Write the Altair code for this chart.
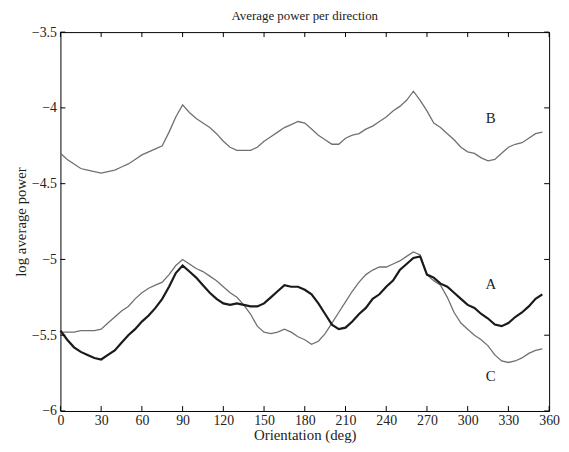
import altair as alt
import pandas as pd

deg = list(range(0, 360, 5))

series_b = [-4.30, -4.34, -4.37, -4.40, -4.41, -4.42, -4.43, -4.42, -4.41, -4.39,
            -4.37, -4.34, -4.31, -4.29, -4.27, -4.25, -4.16, -4.06, -3.98, -4.03,
            -4.07, -4.10, -4.13, -4.17, -4.22, -4.26, -4.28, -4.28, -4.28, -4.26,
            -4.22, -4.19, -4.16, -4.13, -4.11, -4.09, -4.10, -4.14, -4.18, -4.21,
            -4.24, -4.24, -4.20, -4.18, -4.17, -4.14, -4.12, -4.09, -4.06, -4.02,
            -3.99, -3.95, -3.89, -3.95, -4.02, -4.10, -4.13, -4.17, -4.21, -4.26,
            -4.29, -4.30, -4.33, -4.35, -4.34, -4.30, -4.26, -4.24, -4.23, -4.20,
            -4.17, -4.16]

series_a = [-5.47, -5.53, -5.58, -5.61, -5.63, -5.65, -5.66, -5.63, -5.60, -5.55,
            -5.50, -5.46, -5.41, -5.37, -5.32, -5.26, -5.18, -5.09, -5.04, -5.08,
            -5.12, -5.17, -5.22, -5.26, -5.29, -5.30, -5.29, -5.30, -5.31, -5.31,
            -5.29, -5.25, -5.21, -5.17, -5.18, -5.18, -5.20, -5.23, -5.29, -5.36,
            -5.43, -5.46, -5.45, -5.41, -5.36, -5.32, -5.26, -5.23, -5.18, -5.14,
            -5.07, -5.03, -4.99, -4.98, -5.10, -5.12, -5.16, -5.18, -5.22, -5.26,
            -5.30, -5.32, -5.36, -5.39, -5.43, -5.44, -5.42, -5.38, -5.35, -5.31,
            -5.26, -5.23]

series_c = [-5.48, -5.48, -5.48, -5.47, -5.47, -5.47, -5.46, -5.42, -5.38, -5.34,
            -5.31, -5.26, -5.22, -5.19, -5.17, -5.15, -5.10, -5.04, -5.00, -5.03,
            -5.06, -5.08, -5.11, -5.14, -5.18, -5.22, -5.25, -5.30, -5.36, -5.44,
            -5.48, -5.49, -5.48, -5.46, -5.48, -5.51, -5.53, -5.56, -5.54, -5.49,
            -5.42, -5.35, -5.28, -5.21, -5.15, -5.10, -5.07, -5.05, -5.05, -5.03,
            -5.01, -4.98, -4.95, -4.97, -5.10, -5.14, -5.17, -5.25, -5.35, -5.42,
            -5.46, -5.50, -5.53, -5.57, -5.63, -5.67, -5.68, -5.67, -5.65, -5.62,
            -5.60, -5.59]

x_ticks = [0, 30, 60, 90, 120, 150, 180, 210, 240, 270, 300, 330, 360]
y_ticks = [-6, -5.5, -5, -4.5, -4, -3.5]

label_names = ["B", "A", "C"]
label_x = [317, 317, 317]
label_y = [-4.07, -5.16, -5.77]

W, H = 494, 383
FONT = "Liberation Serif"

rows = []
for name, vals in [("B", series_b), ("A", series_a), ("C", series_c)]:
    for d, v in zip(deg, vals):
        rows.append({"deg": d, "val": v, "series": name})
df = pd.DataFrame(rows)

xs = alt.Scale(domain=[0, 360], nice=False)
ys = alt.Scale(domain=[-6, -3.5], nice=False, zero=False)

base = alt.Chart(df).encode(
    x=alt.X("deg:Q", scale=xs,
            axis=alt.Axis(values=x_ticks, title="Orientation (deg)", tickSize=0,
                          labelPadding=3, titlePadding=0, grid=False, domain=False,
                          labelFlush=False, labelFontSize=14, titleFontSize=15,
                          labelExpr="format(datum.value, 'd')")),
    y=alt.Y("val:Q", scale=ys,
            axis=alt.Axis(values=y_ticks, title="log average power", tickSize=0,
                          labelPadding=4, titlePadding=3, grid=False, domain=False,
                          labelFlush=False, labelFontSize=14, titleFontSize=15,
                          labelExpr="replace(format(datum.value, '.1f'), '.0', '')")),
)

thin = base.transform_filter(alt.datum.series != "A").mark_line(
    color="#707070", strokeWidth=1.3).encode(detail="series:N")
thick = base.transform_filter(alt.datum.series == "A").mark_line(
    color="#1a1a1a", strokeWidth=2.2)

xt = pd.DataFrame({"t": x_ticks})
yt = pd.DataFrame({"t": y_ticks})
xtick_bot = alt.Chart(xt).mark_rule(color="black", strokeWidth=1).encode(
    x=alt.X("t:Q", scale=xs), y=alt.value(H), y2=alt.value(H - 5))
xtick_top = alt.Chart(xt).mark_rule(color="black", strokeWidth=1).encode(
    x=alt.X("t:Q", scale=xs), y=alt.value(0), y2=alt.value(5))
ytick_l = alt.Chart(yt).mark_rule(color="black", strokeWidth=1).encode(
    y=alt.Y("t:Q", scale=ys), x=alt.value(0), x2=alt.value(5))
ytick_r = alt.Chart(yt).mark_rule(color="black", strokeWidth=1).encode(
    y=alt.Y("t:Q", scale=ys), x=alt.value(W), x2=alt.value(W - 5))

lab_df = pd.DataFrame({"name": label_names, "x": label_x, "y": label_y})
labels = alt.Chart(lab_df).mark_text(font=FONT, fontSize=15, color="#222").encode(
    x=alt.X("x:Q", scale=xs), y=alt.Y("y:Q", scale=ys), text="name:N")

chart = alt.layer(thin, thick, xtick_bot, xtick_top, ytick_l, ytick_r, labels).properties(
    width=W, height=H,
    background="white",
    title=alt.TitleParams("Average power per direction", font=FONT, fontSize=13,
                          fontWeight="normal", color="#222", offset=2),
    autosize=alt.AutoSizeParams(type="none"),
    padding={"left": 53, "top": 22, "right": 12, "bottom": 31},
).configure_view(stroke="black", strokeWidth=1).configure_axis(
    labelFont=FONT, titleFont=FONT,
    labelColor="#222", titleColor="#222", titleFontWeight="normal"
)

chart.save("out.html", embed_options={"renderer": "svg", "actions": False})
